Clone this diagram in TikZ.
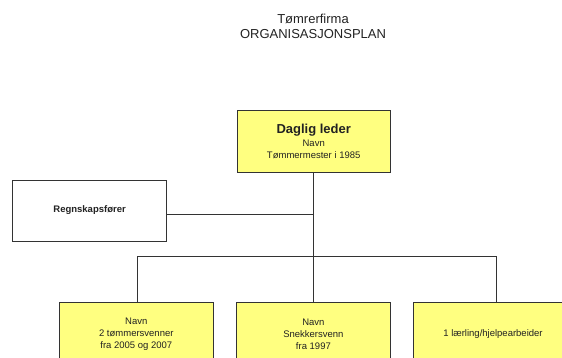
\documentclass[tikz,border=0pt]{standalone}
\usepackage{fontspec}
\setmainfont{Liberation Sans}
\definecolor{boxyellow}{HTML}{FFFF80}
\definecolor{linegray}{HTML}{333333}
\definecolor{txtgray}{HTML}{222222}
\begin{document}
\begin{tikzpicture}[x=1pt,y=-1pt,
  orgbox/.style={draw=linegray, line width=0.9pt, minimum width=153.5pt, minimum height=62.5pt, inner sep=0pt, align=center, text=txtgray, font=\fontsize{9.5}{12}\selectfont},
  yellowbox/.style={orgbox, fill=boxyellow},
  wire/.style={draw=linegray, line width=0.9pt}]
\useasboundingbox (0,0) rectangle (562,358);
\node[text=txtgray, align=center, font=\fontsize{13}{15}\selectfont] (title) at (313,26) {Tømrerfirma\\ORGANISASJONSPLAN};
\node[yellowbox] (leader) at (313.7,141.3) {{\fontsize{13}{14}\selectfont\bfseries Daglig leder}\\[1pt]Navn\\Tømmermester i 1985};
\node[orgbox, fill=white, minimum width=154pt, minimum height=61pt, font=\fontsize{9.5}{12}\selectfont\bfseries] (acct) at (89.6,210.5) {Regnskapsfører};
\node[yellowbox] (b1) at (136.3,334) {Navn\\2 tømmersvenner\\fra 2005 og 2007};
\node[yellowbox] (b2) at (313.4,334) {Navn\\Snekkersvenn\\fra 1997};
\node[yellowbox, minimum width=160pt] (b3) at (493,334) {1 lærling/hjelpearbeider};
\coordinate (join) at (313.7,214);
\coordinate (busL) at (137.6,256);
\coordinate (busM) at (313.7,256);
\coordinate (busR) at (496,256);
\draw[wire] (leader.south) -- (busM);
\draw[wire] (acct.east |- join) -- (join);
\draw[wire] (busL) -- (busR);
\draw[wire] (busL) -- (busL |- b1.north);
\draw[wire] (busM) -- (busM |- b2.north);
\draw[wire] (busR) -- (busR |- b3.north);
\end{tikzpicture}
\end{document}
